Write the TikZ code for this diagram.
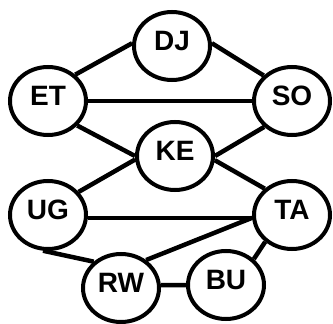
\documentclass[tikz,border=0pt]{standalone}
\usepackage{fontspec}
\setmainfont{Liberation Sans}
\usepackage{tikz}
\usetikzlibrary{shapes.geometric, positioning}
\tikzstyle{cNode} = [ellipse, minimum width=76pt, minimum height=68pt, text depth=10pt, inner sep=2pt, line width=4pt, draw=black, fill=white, font=\bfseries\fontsize{28}{28}\selectfont]
\tikzstyle{link} = [line width=4.5pt, draw=black]

\begin{document}
\begin{tikzpicture}[x=1pt, y=-1pt]
        \useasboundingbox (0,0) rectangle (333,324);
        \node (dj) [cNode] at (172,46) {DJ};
        \node (et) [cNode] at (48,101) {ET};
        \node (so) [cNode] at (292,101) {SO};
        \node (ke) [cNode] at (175,156) {KE};
        \node (ug) [cNode] at (48,215) {UG};
        \node (ta) [cNode] at (292,215) {TA};
        \node (rw) [cNode] at (121,288) {RW};
        \node (bu) [cNode] at (226,285) {BU};
        
        \draw [link] (et.44) -- (dj.176);
        \draw [link] (dj.4) -- (so.138);
        \draw [link] (et.east) -- (so.west);
        \draw [link] (et.-40) -- (ke.180);
        \draw [link] (so.223) -- (ke.0);
        \draw [link] (ug.37) -- (ke.185);
        \draw [link] (ke.354) -- (ta.136);
        \draw [link] (ug.356) -- (ta.184);
        \draw [link] (rw.48) -- (ta.184);
        \draw [link] (ug.262) -- (rw.136);
        \draw [link] (rw.4) -- (bu.180);
        \draw [link] (bu.43) -- (ta.225);
        
        \end{tikzpicture}
\end{document}
